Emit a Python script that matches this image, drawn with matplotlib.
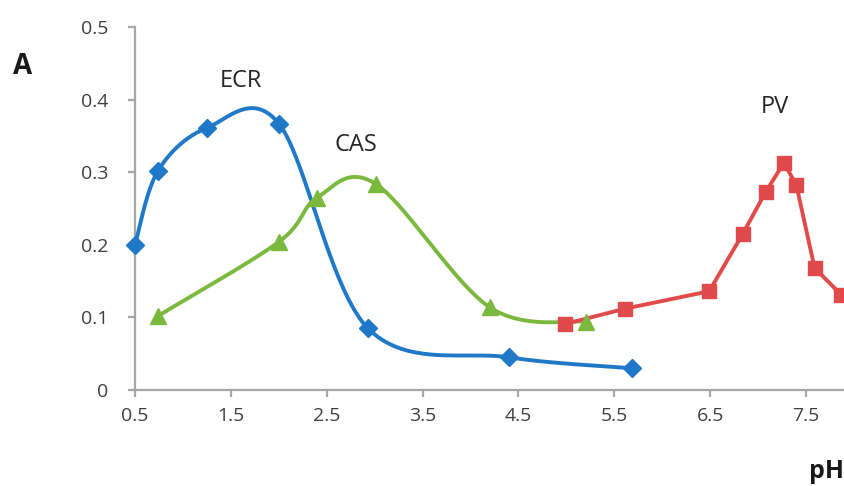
import numpy as np
import matplotlib
matplotlib.use("Agg")
import matplotlib.pyplot as plt

# Data
ecr_ph = [0.5, 0.74, 1.25, 2.0, 2.93, 4.4, 5.69]
ecr_val = [0.200, 0.302, 0.361, 0.367, 0.085, 0.045, 0.030]

cas_ph = [0.74, 2.0, 2.4, 3.01, 4.2, 5.2]
cas_val = [0.102, 0.204, 0.265, 0.284, 0.114, 0.094]

pv_ph = [4.99, 5.61, 6.49, 6.84, 7.08, 7.27, 7.40, 7.59, 7.87]
pv_val = [0.091, 0.112, 0.136, 0.215, 0.273, 0.313, 0.282, 0.168, 0.131]

xticks = [0.5, 1.5, 2.5, 3.5, 4.5, 5.5, 6.5, 7.5]
yticks = [0, 0.1, 0.2, 0.3, 0.4, 0.5]
xtick_labels = ["0.5", "1.5", "2.5", "3.5", "4.5", "5.5", "6.5", "7.5"]
ytick_labels = ["0", "0.1", "0.2", "0.3", "0.4", "0.5"]

blue = "#1f78c8"
green = "#7ab83e"
red = "#e04a4a"


def smooth(x, y, n=40):
    """Excel-like smoothed line: cubic Bezier segments with Catmull-Rom control points."""
    x = np.asarray(x, float)
    y = np.asarray(y, float)
    P = np.column_stack([x, y])
    out = []
    for i in range(len(P) - 1):
        p0 = P[i - 1] if i > 0 else P[i]
        p1 = P[i]
        p2 = P[i + 1]
        p3 = P[i + 2] if i + 2 < len(P) else P[i + 1]
        c1 = p1 + (p2 - p0) / 6.0
        c2 = p2 - (p3 - p1) / 6.0
        t = np.linspace(0, 1, n)[:, None]
        seg = ((1 - t) ** 3) * p1 + 3 * ((1 - t) ** 2) * t * c1 + 3 * (1 - t) * t ** 2 * c2 + t ** 3 * p2
        out.append(seg if i == 0 else seg[1:])
    s = np.vstack(out)
    return s[:, 0], s[:, 1]


plt.rcParams['font.family'] = ['Open Sans', 'DejaVu Sans']

fig = plt.figure(figsize=(8.45, 4.86), dpi=100)
ax = fig.add_axes([0.1598, 0.1975, 0.8402, 0.7469])

lw = 2.8
sx, sy = smooth(ecr_ph, ecr_val)
ax.plot(sx, sy, color=blue, lw=lw, solid_capstyle='round', zorder=3)
ax.plot(ecr_ph, ecr_val, linestyle='none', marker='D', ms=9.5, color=blue, zorder=4, clip_on=False)

sx, sy = smooth(cas_ph, cas_val)
ax.plot(sx, sy, color=green, lw=lw, solid_capstyle='round', zorder=3)
ax.plot(cas_ph, cas_val, linestyle='none', marker='^', ms=12, color=green, zorder=5, clip_on=False)

ax.plot(pv_ph, pv_val, color=red, lw=lw, marker='s', ms=10, zorder=4, clip_on=False)

ax.set_xlim(0.5, 7.907)
ax.set_ylim(0, 0.5)
ax.set_xticks(xticks)
ax.set_xticklabels(xtick_labels)
ax.set_yticks(yticks)
ax.set_yticklabels(ytick_labels)

for side in ['top', 'right']:
    ax.spines[side].set_visible(False)
for side in ['left', 'bottom']:
    ax.spines[side].set_color('#a6a6a6')
    ax.spines[side].set_linewidth(1.6)
ax.tick_params(axis='both', direction='out', length=5, width=1.6, color='#a6a6a6',
               labelsize=14, labelcolor='#404040')
ax.tick_params(axis='x', pad=7)
ax.tick_params(axis='y', pad=14)

ax.text(1.6, 0.425, "ECR", fontsize=17, color='#262626', ha='center', va='center')
ax.text(2.8, 0.337, "CAS", fontsize=17, color='#262626', ha='center', va='center')
ax.text(7.18, 0.39, "PV", fontsize=17, color='#262626', ha='center', va='center')

fig.text(23 / 845, 1 - 66 / 486, "A", fontsize=20, fontweight='bold', color='#1a1a1a',
         ha='center', va='center')
fig.text(844 / 845, 1 - 471 / 486, "pH", fontsize=18, fontweight='bold', color='#1a1a1a',
         ha='right', va='center')

fig.savefig("out.png", dpi=100)
